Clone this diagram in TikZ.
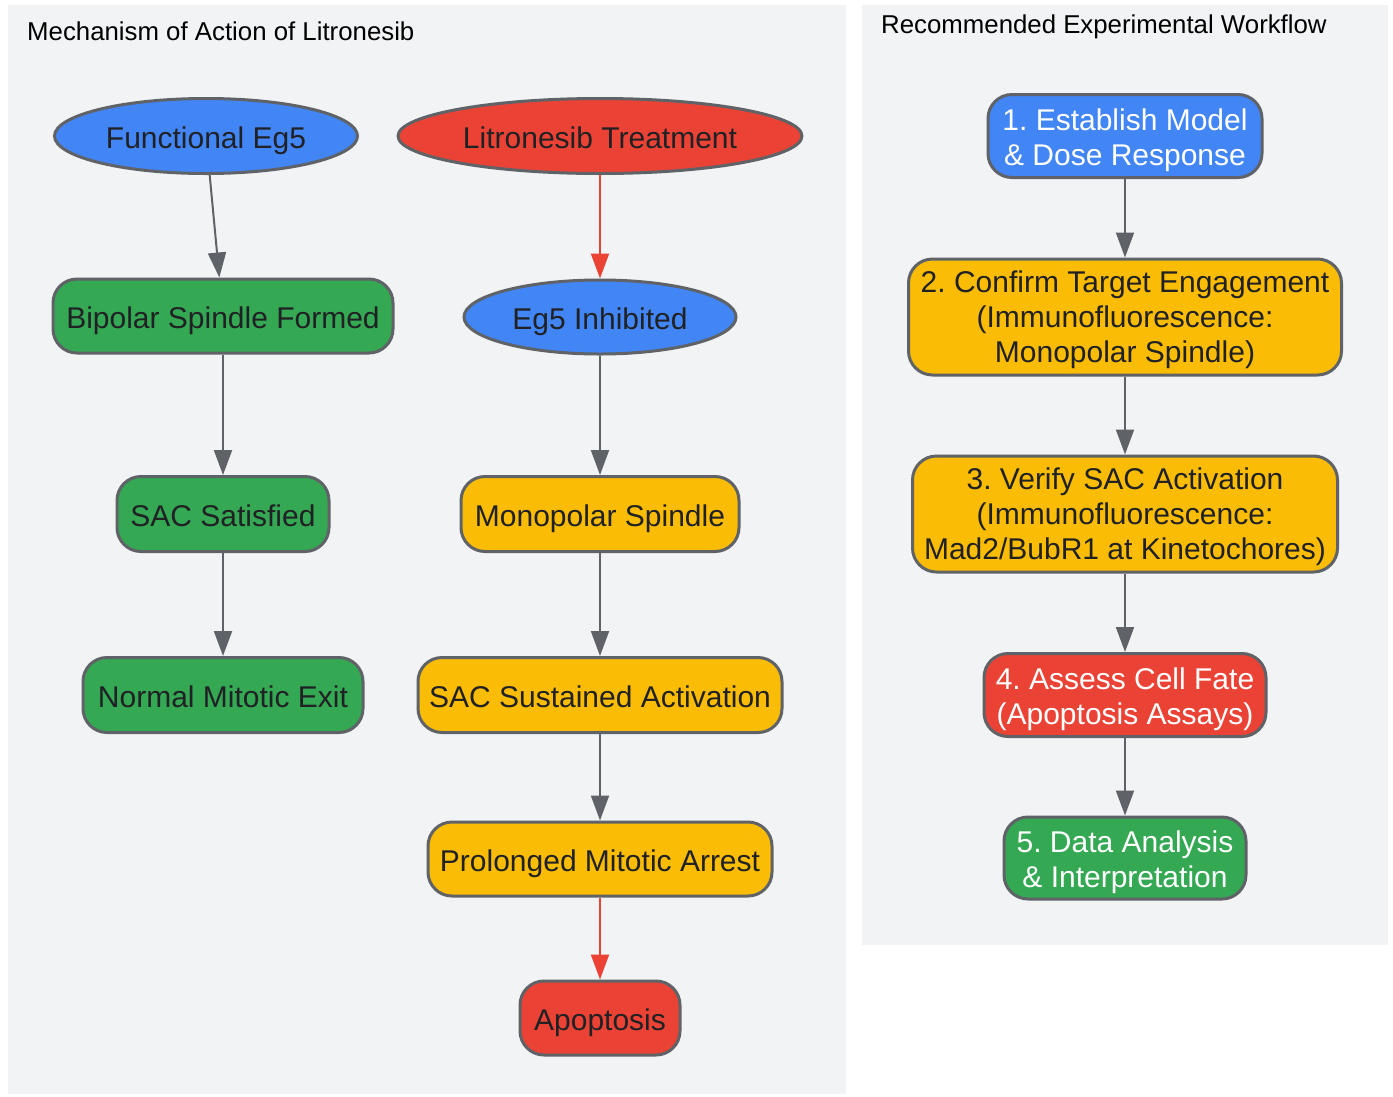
\documentclass[tikz,border=0pt]{standalone}
\usepackage{fontspec}
\setmainfont{Liberation Sans}
\frenchspacing
\usetikzlibrary{shapes.geometric,arrows.meta,positioning}

\definecolor{gblue}{HTML}{4285F4}
\definecolor{gred}{HTML}{EA4335}
\definecolor{gyellow}{HTML}{FBBC05}
\definecolor{ggreen}{HTML}{34A853}
\definecolor{gborder}{HTML}{5F6368}
\definecolor{gtext}{HTML}{202124}
\definecolor{panelbg}{HTML}{F1F3F4}

% single lines get the full ascent/descent of the font
\newcommand\boxstrut{\rule[-0.212em]{0pt}{1.25em}}

\tikzset{
    box/.style={draw=gborder, line width=3pt, rounded corners=24pt, align=center,
        inner sep=0pt, text=gtext, font=\fontsize{30}{35}\selectfont,
        execute at begin node=\boxstrut},
    twoline/.style={text height=65pt, text depth=6.4pt},
    threeline/.style={text height=98pt, text depth=6.4pt},
    oval/.style={ellipse, draw=gborder, line width=3pt, inner sep=0pt,
        minimum height=75pt, text=gtext, font=\fontsize{30}{35}\selectfont,
        execute at begin node=\boxstrut},
    flow/.style={draw=gborder, line width=2pt, -{Triangle[length=25pt,width=18pt]}},
    redflow/.style={flow, draw=gred},
    paneltitle/.style={anchor=west, inner sep=0pt, font=\fontsize{25.8}{30}\selectfont}
}

\begin{document}
\begin{tikzpicture}[x=1pt, y=-1pt]
    % page and panels
    \fill[white] (0,0) rectangle (1393,1096);
    \fill[panelbg] (8,5) rectangle (846,1094);
    \fill[panelbg] (862,5) rectangle (1388,945);
    \node[paneltitle] (mtitle) at (27,31) {Mechanism of Action of Litronesib};
    \node[paneltitle] (wtitle) at (881,27) {Recommended Experimental Workflow};

    % mechanism: normal path
    \node[oval, fill=gblue, minimum width=303pt] (feg) at (206,136) {Functional Eg5};
    \node[box, fill=ggreen, minimum width=340pt, minimum height=74pt] (bsf) at (223,316) {Bipolar Spindle Formed};
    \node[box, fill=ggreen, minimum width=212pt, minimum height=75pt] (sacs) at (223,514) {SAC Satisfied};
    \node[box, fill=ggreen, minimum width=280pt, minimum height=75pt] (nme) at (223,695) {Normal Mitotic Exit};

    % mechanism: drug path
    \node[oval, fill=gred, minimum width=404pt] (ltr) at (600,136) {Litronesib Treatment};
    \node[oval, fill=gblue, minimum width=272pt, minimum height=74pt] (inh) at (600,317) {Eg5 Inhibited};
    \node[box, fill=gyellow, minimum width=278pt, minimum height=75pt] (mono) at (600,514) {Monopolar Spindle};
    \node[box, fill=gyellow, minimum width=364pt, minimum height=75pt] (sacsa) at (600,695) {SAC Sustained Activation};
    \node[box, fill=gyellow, minimum width=344pt, minimum height=74pt] (pma) at (600,859) {Prolonged Mitotic Arrest};
    \node[box, fill=gred, minimum width=160pt, minimum height=74pt] (apo) at (600,1018) {Apoptosis};

    % workflow
    \node[box, twoline, fill=gblue, text=white, minimum width=274pt, minimum height=83pt] (wf1) at (1125,136) {1. Establish Model\\\& Dose Response};
    \node[box, threeline, fill=gyellow, minimum width=433pt, minimum height=116pt] (wf2) at (1125,317) {2. Confirm Target Engagement\\(Immunofluorescence:\\Monopolar Spindle)};
    \node[box, threeline, fill=gyellow, minimum width=425pt, minimum height=116pt] (wf3) at (1125,514) {3. Verify SAC Activation\\(Immunofluorescence:\\Mad2/BubR1 at Kinetochores)};
    \node[box, twoline, fill=gred, text=white, minimum width=282pt, minimum height=83pt] (wf4) at (1125,695) {4. Assess Cell Fate\\(Apoptosis Assays)};
    \node[box, twoline, fill=ggreen, text=white, minimum width=242pt, minimum height=82pt] (wf5) at (1125,858) {5. Data Analysis\\\& Interpretation};

    % connectors
    \draw[flow] (feg) -- (bsf);
    \draw[flow] (bsf) -- (sacs);
    \draw[flow] (sacs) -- (nme);
    \draw[redflow] (ltr) -- (inh);
    \draw[flow] (inh) -- (mono);
    \draw[flow] (mono) -- (sacsa);
    \draw[flow] (sacsa) -- (pma);
    \draw[redflow] (pma) -- (apo);
    \draw[flow] (wf1) -- (wf2);
    \draw[flow] (wf2) -- (wf3);
    \draw[flow] (wf3) -- (wf4);
    \draw[flow] (wf4) -- (wf5);
\end{tikzpicture}
\end{document}
